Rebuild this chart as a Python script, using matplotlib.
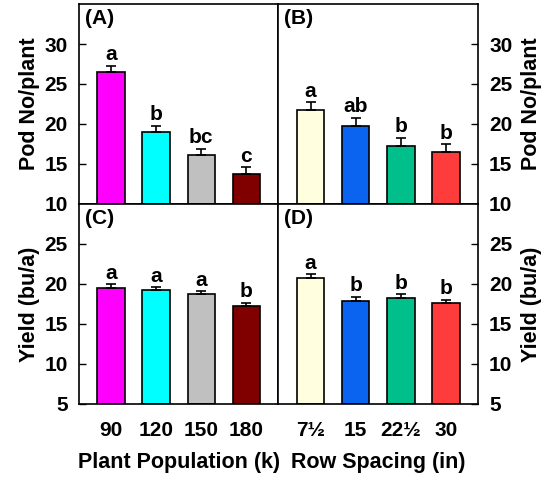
import numpy as np
import matplotlib.pyplot as plt

plt.rcParams['font.family'] = ['Liberation Sans', 'DejaVu Sans']
plt.rcParams['font.weight'] = 'bold'

# plant population treatments
pop_labels = ['90', '120', '150', '180']
pop_colors = ['#ff00ff', '#00ffff', '#c0c0c0', '#800000']
pod_pop = [26.5, 19.0, 16.1, 13.8]
pod_pop_se = [0.8, 0.8, 0.8, 0.8]
pod_pop_grp = ['a', 'b', 'bc', 'c']
yld_pop = [19.5, 19.2, 18.7, 17.2]
yld_pop_se = [0.45, 0.4, 0.4, 0.45]
yld_pop_grp = ['a', 'a', 'a', 'b']

# row spacing treatments
row_labels = ['7\u00bd', '15', '22\u00bd', '30']
row_colors = ['#ffffe0', '#0a64f0', '#00bf8a', '#ff3c3c']
pod_row = [21.7, 19.8, 17.3, 16.5]
pod_row_se = [1.0, 1.0, 1.0, 1.0]
pod_row_grp = ['a', 'ab', 'b', 'b']
yld_row = [20.7, 17.9, 18.2, 17.6]
yld_row_se = [0.5, 0.5, 0.5, 0.45]
yld_row_grp = ['a', 'b', 'b', 'b']

fig, axs = plt.subplots(2, 2, figsize=(5.5, 4.78), dpi=100)
fig.subplots_adjust(left=0.1436, right=0.869, top=0.9916, bottom=0.155,
                    wspace=0, hspace=0)

panels = [
    (axs[0, 0], pod_pop, pod_pop_se, pod_pop_grp, pop_colors, '(A)'),
    (axs[0, 1], pod_row, pod_row_se, pod_row_grp, row_colors, '(B)'),
    (axs[1, 0], yld_pop, yld_pop_se, yld_pop_grp, pop_colors, '(C)'),
    (axs[1, 1], yld_row, yld_row_se, yld_row_grp, row_colors, '(D)'),
]

x = np.arange(4)
for i, (ax, vals, se, grp, cols, tag) in enumerate(panels):
    top = i < 2
    base = 10 if top else 5
    ax.bar(x, np.array(vals) - base, bottom=base, width=0.61, color=cols,
           edgecolor='black', linewidth=1.2, zorder=2)
    ax.errorbar(x, vals, yerr=[np.zeros(4), se], fmt='none', ecolor='black',
                elinewidth=1.2, capsize=3.5, capthick=1.2, zorder=3)
    for xi, v, e, g in zip(x, vals, se, grp):
        ax.annotate(g, (xi, v + e), xytext=(0, 1), textcoords='offset points',
                    ha='center', va='bottom', fontsize=15, fontweight='bold')
    ax.set_xlim(-0.71, 3.71)
    if top:
        ax.set_ylim(10, 35)
        ax.set_yticks([10, 15, 20, 25, 30])
        ax.set_xticks([])
    else:
        ax.set_ylim(5, 30)
        ax.set_yticks([5, 10, 15, 20, 25])
        ax.set_xticks(x)
        ax.set_xticklabels(pop_labels if i == 2 else row_labels)
    ax.text(0.03, 0.975, tag, transform=ax.transAxes, ha='left', va='top',
            fontsize=15, fontweight='bold')
    right = i % 2 == 1
    ax.tick_params(axis='y', direction='in', length=5, width=1,
                   labelsize=15, left=not right, labelleft=not right,
                   right=right, labelright=right, pad=8)
    ax.tick_params(axis='x', length=0, labelsize=15, pad=12)
    if right:
        ax.yaxis.set_label_position('right')
    for s in ax.spines.values():
        s.set_linewidth(1.2)

axs[0, 0].set_ylabel('Pod No/plant', fontsize=15.5, fontweight='bold', labelpad=3)
axs[0, 1].set_ylabel('Pod No/plant', fontsize=15.5, fontweight='bold', labelpad=6)
axs[1, 0].set_ylabel('Yield (bu/a)', fontsize=15.5, fontweight='bold', labelpad=3)
axs[1, 1].set_ylabel('Yield (bu/a)', fontsize=15.5, fontweight='bold', labelpad=6)
axs[1, 0].set_xlabel('Plant Population (k)', fontsize=15.5, fontweight='bold', labelpad=9)
axs[1, 1].set_xlabel('Row Spacing (in)', fontsize=15.5, fontweight='bold', labelpad=9)

fig.savefig('out.png', dpi=100)
